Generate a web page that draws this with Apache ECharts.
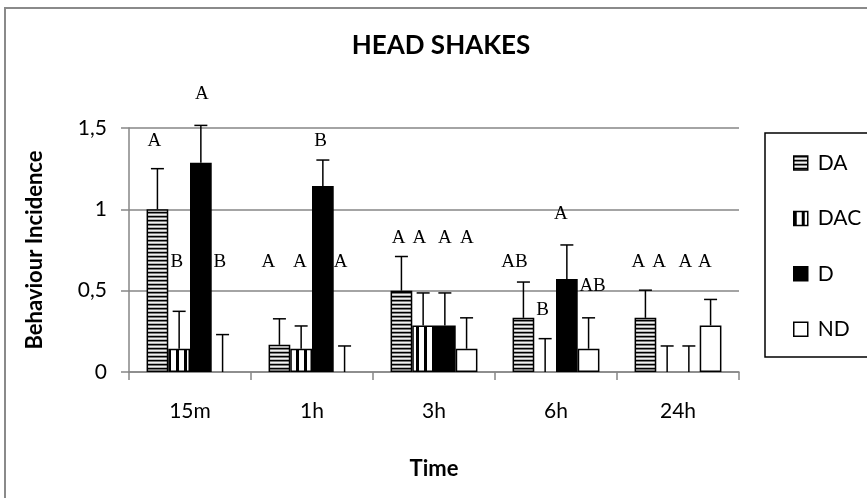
<!DOCTYPE html>
<html>
<head>
<meta charset="utf-8">
<script src="https://cdn.jsdelivr.net/npm/echarts@6/dist/echarts.min.js"></script>
<style>
html,body{margin:0;padding:0;background:#fff;}
#chart{width:867px;height:498px;}
</style>
</head>
<body>
<div id="chart"></div>
<script>
// ---- data ----
var categories = ['15m', '1h', '3h', '6h', '24h'];
var seriesNames = ['DA', 'DAC', 'D', 'ND'];
var valDA  = [1.0, 0.167, 0.5, 0.333, 0.333];
var valDAC = [0.143, 0.143, 0.286, 0, 0];
var valD   = [1.286, 1.143, 0.286, 0.571, 0];
var valND  = [0, 0, 0.143, 0.143, 0.286];
var errDA  = [0.25, 0.16, 0.21, 0.22, 0.17];
var errDAC = [0.23, 0.14, 0.20, 0.205, 0.16];
var errD   = [0.23, 0.16, 0.20, 0.21, 0.16];
var errND  = [0.23, 0.16, 0.19, 0.19, 0.16];
var yTicks = [0, 0.5, 1, 1.5];
// significance letters: text, category index, position inside category (0..1), value height
var letterText = ['A','B','A','B', 'A','A','B','A', 'A','A','A','A', 'AB','B','A','AB', 'A','A','A','A'];
var letterCat  = [0,0,0,0, 1,1,1,1, 2,2,2,2, 3,3,3,3, 4,4,4,4];
var letterPos  = [0.207,0.393,0.597,0.745, 0.143,0.40,0.571,0.735, 0.21,0.38,0.59,0.77, 0.16,0.39,0.54,0.80, 0.176,0.345,0.56,0.72];
var letterVal  = [1.417,0.678,1.711,0.678, 0.678,0.678,1.417,0.678, 0.822,0.822,0.822,0.822, 0.678,0.380,0.970,0.530, 0.678,0.678,0.678,0.678];

var values = [valDA, valDAC, valD, valND];
var errors = [errDA, errDAC, errD, errND];

// ---- patterns ----
function makePattern(w, h, draw) {
  var c = document.createElement('canvas');
  c.width = w; c.height = h;
  var ctx = c.getContext('2d');
  draw(ctx);
  return c;
}
var hStripe = makePattern(1, 4, function (ctx) {
  ctx.fillStyle = '#000'; ctx.fillRect(0, 0, 1, 1);
  ctx.fillStyle = '#7a7a7a'; ctx.fillRect(0, 1, 1, 1);
  ctx.fillStyle = '#f2f2f2'; ctx.fillRect(0, 2, 1, 1);
  ctx.fillStyle = '#b4b4b4'; ctx.fillRect(0, 3, 1, 1);
});
var vStripe = makePattern(8, 1, function (ctx) {
  ctx.fillStyle = '#ffffff'; ctx.fillRect(0, 0, 8, 1);
  ctx.fillStyle = '#000000'; ctx.fillRect(0, 0, 3, 1);
});
var fills = [
  { image: hStripe, repeat: 'repeat' },
  { image: vStripe, repeat: 'repeat' },
  '#000000',
  '#ffffff'
];

var GAP = 0.288;
var FONT = 'Lato';
var GRAY = '#868686';

var series = seriesNames.map(function (name, i) {
  return {
    name: name,
    type: 'bar',
    barGap: '0%',
    barCategoryGap: (GAP * 100) + '%',
    data: values[i].map(function (v) {
      return v === 0 ? { value: v, itemStyle: { borderWidth: 0 } } : v;
    }),
    itemStyle: { color: fills[i], borderColor: '#000', borderWidth: 1.5 },
    z: 2
  };
});

// error bars
var errData = [];
for (var s = 0; s < 4; s++) {
  for (var c = 0; c < categories.length; c++) {
    errData.push([c, s, values[s][c], errors[s][c]]);
  }
}
series.push({
  type: 'custom',
  name: 'err',
  clip: false,
  z: 5,
  silent: true,
  encode: { x: 0, y: 2 },
  data: errData,
  renderItem: function (params, api) {
    var c = api.value(0), s = api.value(1), v = api.value(2), e = api.value(3);
    var base = api.coord([c, v]);
    var top = api.coord([c, v + e]);
    var band = api.size([1, 0])[0];
    var bw = band * (1 - GAP) / 4;
    var x = base[0] + (s - 1.5) * bw;
    var cap = 6.5;
    return {
      type: 'group',
      children: [
        { type: 'line', shape: { x1: x, y1: base[1], x2: x, y2: top[1] }, style: { stroke: '#000', lineWidth: 1.5 } },
        { type: 'line', shape: { x1: x - cap, y1: top[1], x2: x + cap, y2: top[1] }, style: { stroke: '#000', lineWidth: 1.5 } }
      ]
    };
  }
});

// letters
var letterData = letterText.map(function (t, i) { return [letterCat[i], letterVal[i], letterPos[i]]; });
series.push({
  type: 'custom',
  name: 'letters',
  clip: false,
  z: 6,
  silent: true,
  encode: { x: 0, y: 1 },
  data: letterData,
  renderItem: function (params, api) {
    var c = api.value(0), v = api.value(1), p = api.value(2);
    var pt = api.coord([c, v]);
    var band = api.size([1, 0])[0];
    var x = pt[0] + (p - 0.5) * band;
    return {
      type: 'text',
      x: x, y: pt[1],
      style: {
        text: letterText[params.dataIndex],
        fill: '#000',
        font: '19px "Liberation Serif", "Times New Roman", serif',
        align: 'center',
        verticalAlign: 'middle'
      }
    };
  }
});

var chart = echarts.init(document.getElementById('chart'));
chart.setOption({
  animation: false,
  backgroundColor: '#fff',
  title: {
    text: 'HEAD SHAKES',
    left: 441, top: 33, textAlign: 'center', padding: 0,
    textStyle: { fontFamily: FONT, fontWeight: 'bold', fontSize: 26, color: '#000' }
  },
  legend: {
    orient: 'vertical',
    left: 793, top: 152,
    data: seriesNames,
    itemWidth: 14, itemHeight: 14,
    itemGap: 33.4,
    icon: 'rect',
    padding: 0,
    itemStyle: { borderWidth: 1.5, borderColor: '#000' },
    textStyle: { fontFamily: FONT, fontSize: 21, lineHeight: 22, color: '#000', padding: [0, 0, 0, 5] }
  },
  grid: { left: 129, right: 128, top: 128, bottom: 126, containLabel: false },
  xAxis: {
    type: 'category',
    data: categories,
    name: 'Time',
    nameLocation: 'middle',
    nameGap: 86,
    nameTextStyle: { fontFamily: FONT, fontWeight: 'bold', fontSize: 22, color: '#000' },
    axisLine: { lineStyle: { color: GRAY, width: 1.5 } },
    axisTick: { show: true, length: 8, lineStyle: { color: GRAY, width: 1.5 } },
    axisLabel: { fontFamily: FONT, fontSize: 21, color: '#000', margin: 29 },
    splitLine: { show: false }
  },
  yAxis: {
    type: 'value',
    min: yTicks[0], max: yTicks[yTicks.length - 1], interval: yTicks[1] - yTicks[0],
    name: 'Behaviour Incidence',
    nameLocation: 'middle',
    nameRotate: 90,
    nameGap: 83,
    nameTextStyle: { fontFamily: FONT, fontWeight: 'bold', fontSize: 22, color: '#000' },
    axisLine: { show: true, lineStyle: { color: GRAY, width: 1.5 } },
    axisTick: { show: true, length: 8, lineStyle: { color: GRAY, width: 1.5 } },
    axisLabel: {
      fontFamily: FONT, fontSize: 21, color: '#000', margin: 22,
      formatter: function (v) { return String(v).replace('.', ','); }
    },
    splitLine: { show: true, lineStyle: { color: GRAY, width: 1.5 } }
  },
  graphic: [
    { type: 'rect', z: -10, shape: { x: 5, y: 8, width: 900, height: 600 }, style: { fill: 'none', stroke: '#8a8a8a', lineWidth: 2 } },
    { type: 'rect', z: 10, shape: { x: 765, y: 133, width: 120, height: 224 }, style: { fill: 'none', stroke: '#000', lineWidth: 1.5 } }
  ],
  series: series
});
</script>
</body>
</html>
